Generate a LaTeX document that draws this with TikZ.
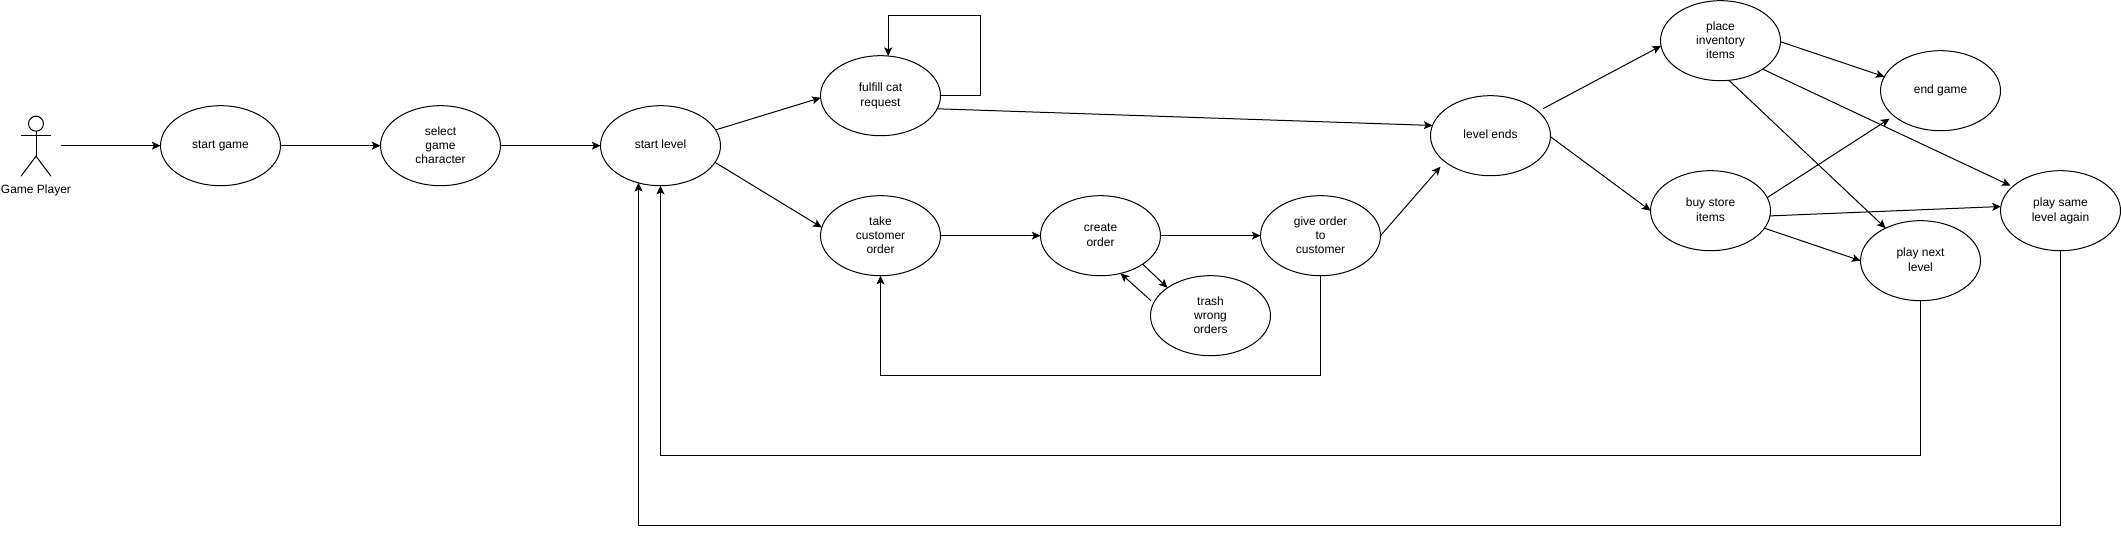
\documentclass[tikz,border=0pt]{standalone}
\usepackage{fontspec}
\setmainfont{Liberation Sans}
\usetikzlibrary{arrows.meta,positioning,shapes.geometric}

\begin{document}
\begin{tikzpicture}[->, >={Stealth[length=6.5pt,width=6pt,inset=1.5pt]}, line width=0.75pt, x=0.75pt, y=-0.75pt, node distance=165pt]
        \tikzstyle{usecase}=[ellipse,draw=black,fill=white,text=black,align=center,minimum width=90pt,minimum height=60pt,inner sep=0pt,outer sep=0pt,font=\fontsize{9}{10.8}\selectfont,text height=4.68pt,text depth=0pt]
        \tikzstyle{twolines}=[usecase,text height=15.48pt]
        \tikzstyle{threelines}=[usecase,text height=27.2pt]
        \useasboundingbox (-0.5,-0.7) rectangle (2120.5,533.3);

        % top row, left to right
        \node[usecase]     (startgame) at (220,145)        {start game};
        \node[threelines]  (select)[right of=startgame]    {select\\game\\character};
        \node[usecase]     (startlevel)[right of=select]   {start level};
        \node[twolines]    (fulfill) at (880,95)           {fulfill cat\\request};
        \node[threelines]  (take) at (880,235)             {take\\customer\\order};
        \node[twolines]    (create)[right of=take]         {create\\order};
        \node[threelines]  (give)[right of=create]         {give order\\to\\customer};
        \node[threelines]  (trash) at (1210,315)           {trash\\wrong\\orders};
        \node[usecase]     (levelends) at (1490,135)       {level ends};
        \node[threelines]  (place) at (1720,40)            {place\\inventory\\items};
        \node[twolines]    (buy) at (1710,210)             {buy store\\items};
        \node[usecase]     (endgame) at (1940,90)          {end game};
        \node[twolines]    (next) at (1920,260)            {play next\\level};
        \node[twolines]    (same) at (2060,210)            {play same\\level again};

        % actor
        \node[circle,draw=black,minimum size=11.25pt,inner sep=0pt,outer sep=0pt] (head) at (35.5,123) {};
        \node[font=\fontsize{9}{10.8}\selectfont,inner sep=0pt] (player) at (35.5,189.5) {Game Player};
        \coordinate (hip) at (35.5,155.5);
        \coordinate (playerout) at (60.5,145);
        \draw[-] (head.south) -- (hip);
        \draw[-] (20.5,135) -- (50.5,135);
        \draw[-] (20.5,175.5) -- (hip) -- (50.5,175.5);

        % free ends, short of the ellipses
        \coordinate (levelin) at (1440,166);
        \coordinate (levelout) at (1542.5,108);
        \coordinate (endin) at (1889,118);
        \coordinate (samein) at (2010,185);
        \coordinate (trashout) at (1150.5,300);

        \coordinate (loopcorner) at (980,15);
        \coordinate (retake) at (880,375);
        \coordinate (renext) at (660,455);
        \coordinate (resame) at (638,525);

        \path
            (playerout)     edge    (startgame.west)
            (startgame)     edge    (select)
            (select)        edge    (startlevel)
            (startlevel.16) edge    (fulfill.182)
            (startlevel.-17) edge   (take.172)
            (take)          edge    (create)
            (create)        edge    (give)
            (create.-34)    edge    (trash.147)
            (trashout)      edge    (create.-62)
            (fulfill.-13)   edge    (levelends.170)
            (give.east)     edge    (levelin)
            (levelout)      edge    (place.185)
            (levelends.-1)  edge    (buy.west)
            (place.-1)      edge    (endgame.166)
            (place.-34)     edge    (samein)
            (place.-78)     edge    (next.137)
            (buy.13)        edge    (endin)
            (buy.-5)        edge    (same.176)
            (buy.-18)       edge    (next.west)
        ;

        % feedback lines
        \draw (fulfill.east) -| (loopcorner) -| (fulfill.79);
        \draw (give.south) |- (retake) -- (take.south);
        \draw (next.south) |- (renext) -- (startlevel.south);
        \draw (same.south) |- (resame) -- (resame |- startlevel.239);
    \end{tikzpicture}
\end{document}
